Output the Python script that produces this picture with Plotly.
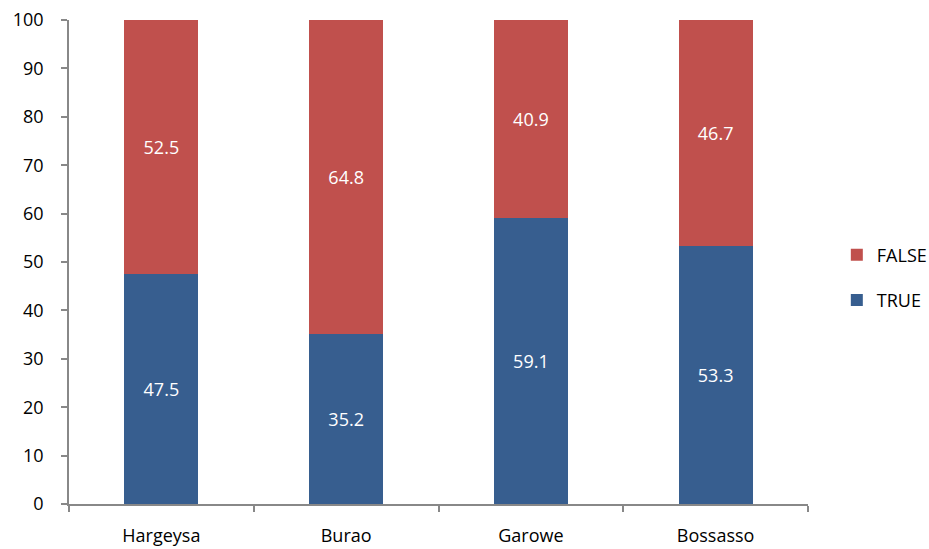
import plotly.graph_objects as go

categories = ["Hargeysa", "Burao", "Garowe", "Bossasso"]
true_vals = [47.5, 35.2, 59.1, 53.3]
false_vals = [52.5, 64.8, 40.9, 46.7]
y_ticks = list(range(0, 101, 10))

FONT = "Open Sans, Lato, sans-serif"

fig = go.Figure()
fig.add_trace(go.Bar(
    x=categories, y=true_vals, name="TRUE", legendgroup="t", legendrank=2,
    marker=dict(color="#375E8F", line=dict(width=0)),
    text=[f"{v:.1f}" for v in true_vals], textposition="inside",
    insidetextanchor="middle",
    textfont=dict(color="white", size=18, family=FONT),
    width=0.4,
))
fig.add_trace(go.Bar(
    x=categories, y=false_vals, name="FALSE", legendgroup="f", legendrank=1,
    marker=dict(color="#C0504D", line=dict(width=0)),
    text=[f"{v:.1f}" for v in false_vals], textposition="inside",
    insidetextanchor="middle",
    textfont=dict(color="white", size=18, family=FONT),
    width=0.4,
))

fig.update_layout(
    width=929, height=549,
    barmode="stack",
    plot_bgcolor="white", paper_bgcolor="white",
    margin=dict(l=69, r=121, t=20, b=45, autoexpand=False),
    font=dict(family=FONT, size=18, color="black"),
    showlegend=True,
    legend=dict(
        x=1.039, y=0.468, xanchor="left", yanchor="middle",
        traceorder="grouped", tracegroupgap=19,
        font=dict(size=18, family=FONT),
        itemwidth=30, bgcolor="rgba(0,0,0,0)",
    ),
    uniformtext=dict(mode="show", minsize=10),
)
fig.update_xaxes(
    type="category", automargin=False,
    showline=True, linecolor="#888888", linewidth=1.5,
    ticks="outside", tickson="boundaries", ticklen=6, tickcolor="#888888", tickwidth=1.5,
    showgrid=False, zeroline=False,
    ticklabelstandoff=15,
    tickfont=dict(size=18, family=FONT),
)
fig.update_yaxes(
    range=[0, 100], tickvals=y_ticks, automargin=False,
    showline=True, linecolor="#888888", linewidth=1.5,
    ticks="outside", ticklen=6, tickcolor="#888888", tickwidth=1.5,
    showgrid=False, zeroline=False,
    ticklabelstandoff=14,
    tickfont=dict(size=18, family=FONT),
)

fig.write_html(
    "out.html",
    config={"displayModeBar": False},
    post_script="document.body.style.margin='0px';document.body.style.overflow='hidden';",
)
